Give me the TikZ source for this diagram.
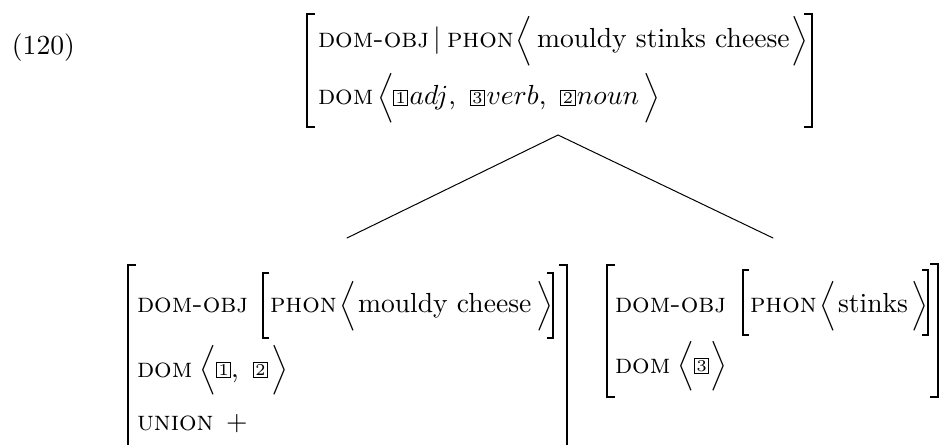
\documentclass[tikz,border=0pt]{standalone}
\usepackage{amsmath}
\usepackage{fontspec}
\newcommand\avmsize{\fontsize{10}{12}\selectfont}
% boxed structure-sharing tag
\newcommand\tagnum[1]{{\setlength\fboxsep{0pt}\setlength\fboxrule{0.36pt}%
  \fbox{\makebox[4.8pt]{\rule{0pt}{4.9pt}\raisebox{0.6pt}{\fontsize{6}{6}\selectfont#1}}}}}
\newcommand\langl{$\Big\langle$}
\newcommand\rangl{$\Big\rangle$}
\newcommand\sep{,\hspace{5pt}}
\newcommand\tagged[2]{\tagnum{#1}\hspace{0.5pt}$#2$}
\tikzset{
  txt/.style={anchor=base west, inner sep=0pt, outer sep=0pt, font=\avmsize},
  outerbrk/.style={line width=0.58pt, line cap=butt, line join=miter},
  innerbrk/.style={line width=0.48pt, line cap=butt, line join=miter},
  branch/.style={line width=0.36pt, line cap=round, line join=miter}
}
\begin{document}
% one unit = one pixel of the 951 x 445 layout
\begin{tikzpicture}[x=0.3623pt,y=-0.3623pt]
\useasboundingbox (0,0) rectangle (951,445);

% example number
\node[txt] (num) at (12,55) {(120)};

% mother AVM
\node[txt] (t-dobj)    at (318,48)  {\textsc{dom-obj}};
\node[txt] (t-bar)     at (433,48)  {$\vert$};
\node[txt] (t-phon)    at (447,48)  {\textsc{phon}};
\node[txt] (t-lang1)   at (515,48)  {\langl};
\node[txt] (t-phonval) at (537,48)  {mouldy stinks cheese};
\node[txt] (t-rang1)   at (791,48)  {\rangl};
\node[txt] (t-dom)     at (318,105) {\textsc{dom}};
\node[txt] (t-lang2)   at (377,105) {\langl};
\node[txt] (t-domval)  at (393,105) {\tagged{1}{adj}\sep\tagged{3}{verb}\sep\tagged{2}{noun}};
\node[txt] (t-rang2)   at (643,105) {\rangl};
\draw[outerbrk] (315,14) -- (307,14) -- (307,127) -- (315,127);
\draw[outerbrk] (804,14) -- (812,14) -- (812,127) -- (804,127);

% left daughter
\node[txt] (l-dobj)    at (137,313) {\textsc{dom-obj}};
\node[txt] (l-phon)    at (270,313) {\textsc{phon}};
\node[txt] (l-lang1)   at (339,313) {\langl};
\node[txt] (l-phonval) at (358,313) {mouldy cheese};
\node[txt] (l-rang1)   at (536,313) {\rangl};
\node[txt] (l-dom)     at (137,377) {\textsc{dom}};
\node[txt] (l-lang2)   at (199,377) {\langl};
\node[txt] (l-domval)  at (216,377) {\tagnum{1}\sep\tagnum{2}};
\node[txt] (l-rang2)   at (271,377) {\rangl};
\node[txt] (l-union)   at (137,430) {\textsc{union}};
\node[txt] (l-plus)    at (226,430) {$+$};
\draw[innerbrk] (269,273) -- (263,273) -- (263,338) -- (269,338);
\draw[innerbrk] (547,273) -- (553,273) -- (553,338) -- (547,338);
\draw[outerbrk] (136,265) -- (128,265) -- (128,452);
\draw[outerbrk] (559,265) -- (567,265) -- (567,452);

% right daughter
\node[txt] (r-dobj)    at (615,313) {\textsc{dom-obj}};
\node[txt] (r-phon)    at (750,313) {\textsc{phon}};
\node[txt] (r-lang1)   at (819,313) {\langl};
\node[txt] (r-phonval) at (838,313) {stinks};
\node[txt] (r-rang1)   at (911,313) {\rangl};
\node[txt] (r-dom)     at (615,373) {\textsc{dom}};
\node[txt] (r-lang2)   at (677,373) {\langl};
\node[txt] (r-domval)  at (694,373) {\tagnum{3}};
\node[txt] (r-rang2)   at (710,373) {\rangl};
\draw[innerbrk] (749,270) -- (743,270) -- (743,335) -- (749,335);
\draw[innerbrk] (922,270) -- (928,270) -- (928,335) -- (922,335);
\draw[outerbrk] (615,265) -- (607,265) -- (607,397) -- (615,397);
\draw[outerbrk] (930,264) -- (938,264) -- (938,397) -- (930,397);

% branches
\coordinate (apex)  at (558,135);
\coordinate (lfoot) at (347,238);
\coordinate (rfoot) at (773,238);
\draw[branch] (lfoot) -- (apex) -- (rfoot);
\end{tikzpicture}
\end{document}
